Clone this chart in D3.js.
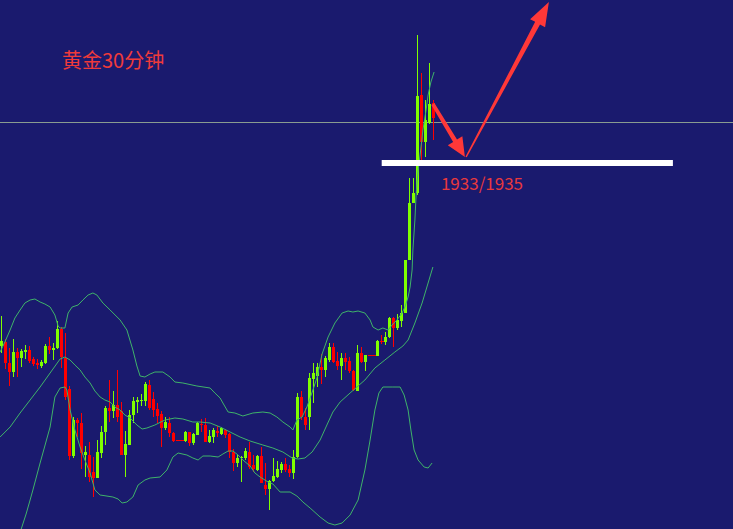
<!DOCTYPE html>
<html><head><meta charset="utf-8">
<script src="https://cdn.jsdelivr.net/npm/d3@7"></script>
<style>html,body{margin:0;padding:0;background:#1a1a6e;overflow:hidden}</style>
</head><body><svg id="c" width="733" height="529"></svg>
<script>
// ---- data (XAUUSD 30-minute candles) ----
const open = [1915.4,1915.8,1913.7,1912.8,1914.8,1914.2,1914.8,1915.0,1914.1,1913.7,1913.4,1913.7,1915.4,1915.0,1915.2,1917.1,1914.2,1911.1,1904.4,1908.0,1907.7,1904.5,1904.5,1902.8,1902.2,1904.7,1906.8,1909.2,1908.9,1909.5,1908.9,1904.5,1905.5,1908.5,1909.8,1909.9,1909.9,1911.5,1910.1,1909.1,1908.6,1907.2,1907.7,1906.7,1906.0,1906.0,1905.9,1906.8,1905.7,1906.5,1907.6,1907.5,1905.8,1906.3,1906.9,1906.6,1907.0,1906.6,1904.8,1903.7,1904.2,1904.2,1904.8,1903.5,1903.0,1904.4,1901.5,1901.1,1901.9,1902.3,1903.0,1903.6,1903.1,1902.7,1904.3,1910.3,1908.3,1908.3,1912.1,1912.4,1913.3,1913.0,1914.0,1915.3,1913.9,1913.4,1914.2,1913.9,1912.9,1910.9,1914.7,1913.8,1914.5,1914.5,1914.4,1915.9,1915.8,1916.3,1918.2,1917.2,1917.9,1918.7,1924.0,1929.7,1930.7,1940.5,1935.8,1937.7,1939.7];
const high = [1918.4,1916.1,1915.2,1916.1,1915.2,1915.1,1915.5,1915.4,1914.3,1914.1,1914.0,1915.6,1916.3,1915.7,1917.9,1917.3,1916.7,1911.4,1908.3,1908.2,1908.7,1905.4,1905.8,1904.3,1906.0,1907.4,1909.4,1912.0,1910.9,1913.0,1909.8,1906.9,1909.0,1910.3,1910.3,1910.6,1911.8,1912.0,1910.8,1909.7,1908.9,1908.3,1908.3,1906.8,1906.0,1906.0,1906.9,1906.8,1906.7,1907.8,1908.1,1908.2,1907.0,1907.2,1907.4,1907.3,1907.1,1906.7,1905.1,1904.5,1904.4,1905.2,1905.8,1904.5,1904.5,1905.3,1903.7,1902.0,1904.2,1903.9,1903.8,1904.2,1903.5,1905.0,1910.7,1910.9,1909.2,1912.7,1913.7,1913.7,1914.6,1914.4,1915.7,1915.7,1914.8,1914.7,1914.7,1914.3,1913.0,1915.5,1915.3,1914.5,1914.5,1914.5,1916.0,1916.5,1916.8,1918.3,1918.3,1918.6,1919.5,1924.0,1932.2,1932.2,1946.5,1942.7,1940.0,1943.7,1940.0];
const low = [1914.7,1913.1,1911.4,1912.3,1912.3,1913.3,1914.1,1913.7,1913.4,1913.1,1913.2,1913.6,1914.6,1914.0,1915.1,1913.2,1910.0,1904.0,1904.2,1906.3,1903.1,1902.3,1901.8,1900.3,1902.2,1904.2,1905.5,1907.8,1908.2,1907.8,1904.5,1902.3,1905.5,1907.7,1908.7,1909.4,1909.4,1909.0,1908.3,1907.7,1905.3,1907.0,1906.3,1905.8,1906.0,1906.0,1905.8,1905.4,1905.5,1906.5,1906.8,1905.8,1905.7,1905.7,1906.3,1906.5,1906.2,1904.2,1902.9,1903.3,1901.8,1904.0,1903.1,1902.8,1902.9,1901.7,1900.5,1899.0,1901.8,1902.2,1902.7,1902.8,1902.3,1902.1,1904.2,1908.0,1907.0,1907.0,1909.7,1911.3,1911.6,1912.3,1913.8,1913.7,1913.0,1912.0,1913.0,1912.7,1910.9,1910.9,1913.7,1912.9,1914.5,1914.5,1914.4,1915.6,1915.5,1916.2,1915.3,1917.0,1917.3,1918.7,1924.0,1929.7,1930.5,1934.0,1934.3,1937.6,1936.0];
const close = [1915.9,1913.7,1912.8,1914.8,1914.2,1914.9,1915.0,1913.9,1913.6,1913.5,1913.8,1915.4,1915.0,1915.2,1917.1,1914.3,1910.3,1904.4,1908.0,1907.7,1904.7,1904.8,1902.3,1902.2,1904.8,1906.8,1909.2,1908.9,1909.5,1908.3,1904.5,1905.6,1908.5,1909.9,1910.0,1910.0,1911.6,1909.2,1909.0,1908.4,1907.2,1907.8,1906.7,1905.9,1906.0,1906.0,1906.8,1905.7,1906.6,1907.7,1907.5,1905.8,1906.4,1907.0,1906.7,1907.2,1906.5,1904.8,1903.7,1904.2,1904.3,1904.9,1903.3,1903.1,1904.4,1901.7,1901.1,1901.9,1902.4,1903.1,1903.6,1903.0,1902.7,1904.3,1910.3,1908.3,1907.5,1912.2,1912.7,1913.3,1913.0,1914.2,1915.3,1913.8,1913.4,1914.2,1913.8,1912.9,1911.0,1914.7,1913.8,1914.5,1914.5,1914.5,1915.9,1915.9,1916.3,1918.2,1917.2,1918.0,1918.7,1924.0,1929.7,1930.7,1940.4,1935.8,1938.0,1939.6,1938.2];

// Bollinger bands: [bar index, price]
const upperBand = [[-0.3,1914.8],[0.9,1915.8],[2.2,1917.0],[3.4,1918.2],[4.7,1919.0],[5.9,1919.7],[7.2,1920.0],[8.4,1920.1],[9.7,1919.8],[10.9,1919.6],[12.2,1919.3],[13.4,1918.5],[14.2,1917.4],[14.7,1917.2],[15.9,1917.2],[16.7,1918.7],[17.7,1919.3],[19.2,1919.5],[20.4,1920.0],[21.7,1920.5],[22.9,1920.7],[23.9,1920.5],[25.4,1919.7],[27.2,1919.0],[29.7,1918.0],[31.4,1917.0],[32.9,1915.0],[33.9,1913.4],[34.7,1912.4],[35.9,1912.3],[37.2,1912.6],[38.4,1912.8],[40.4,1912.8],[42.2,1912.3],[43.4,1911.8],[45.4,1911.7],[48.9,1911.4],[52.2,1911.2],[53.4,1910.7],[54.7,1910.2],[55.4,1909.7],[56.7,1908.8],[58.4,1908.7],[60.4,1908.4],[62.9,1908.7],[65.4,1908.8],[67.2,1908.7],[68.9,1908.3],[70.4,1907.8],[72.2,1907.3],[72.9,1907.0],[73.9,1908.0],[75.2,1908.3],[76.4,1909.3],[77.2,1910.2],[77.9,1911.0],[78.9,1912.2],[80.2,1914.6],[81.7,1916.3],[83.4,1917.7],[85.2,1918.7],[86.7,1918.9],[87.9,1918.8],[89.2,1918.9],[90.9,1918.7],[92.2,1918.0],[92.9,1917.3],[94.2,1917.0],[95.4,1917.2],[96.7,1917.0],[97.7,1917.5],[98.9,1918.0],[100.2,1918.7],[100.9,1919.3],[101.7,1920.3],[102.2,1921.3],[102.7,1923.0],[102.9,1925.0],[103.4,1928.0],[103.7,1930.5],[104.2,1933.0],[104.7,1934.5],[105.4,1937.0],[106.2,1939.0],[106.7,1940.5],[107.4,1941.8],[108.2,1942.8]];
const middleBand = [[-0.3,1906.3],[2.2,1907.3],[4.7,1908.7],[7.2,1910.0],[9.7,1911.3],[12.2,1912.7],[14.7,1914.1],[15.9,1914.3],[17.2,1914.0],[18.4,1913.5],[19.7,1913.0],[20.9,1912.3],[22.2,1911.7],[23.4,1910.9],[24.7,1910.3],[25.9,1910.0],[27.2,1909.8],[28.4,1909.3],[29.7,1909.0],[30.9,1908.5],[32.2,1908.2],[33.9,1907.5],[35.2,1907.1],[36.4,1907.2],[38.4,1907.5],[40.9,1908.0],[43.4,1908.2],[45.4,1908.1],[47.9,1907.8],[49.7,1907.8],[52.2,1907.7],[54.7,1907.3],[57.2,1906.8],[59.7,1906.3],[62.2,1905.9],[65.4,1905.5],[67.9,1905.2],[70.4,1904.8],[72.7,1904.2],[74.2,1904.1],[75.9,1904.2],[77.7,1904.8],[79.7,1906.0],[81.4,1907.5],[82.9,1908.8],[84.7,1909.8],[87.2,1910.7],[88.9,1911.3],[90.9,1912.0],[93.4,1913.2],[95.9,1914.0],[98.4,1914.8],[100.4,1915.4],[101.7,1916.0],[103.4,1917.7],[105.2,1919.7],[106.7,1921.7],[107.9,1923.3]];
const lowerBand = [[4.9,1897.0],[6.2,1898.6],[7.2,1900.0],[7.9,1901.0],[9.7,1903.7],[12.2,1907.3],[13.4,1910.3],[14.7,1911.2],[15.9,1911.3],[16.4,1911.0],[17.2,1909.0],[18.4,1907.0],[19.7,1905.3],[20.9,1904.0],[22.2,1902.7],[23.4,1901.0],[24.7,1900.5],[27.9,1900.3],[29.2,1900.1],[30.2,1899.7],[31.4,1899.8],[32.9,1900.3],[34.2,1901.5],[35.9,1902.0],[37.2,1902.2],[39.7,1902.3],[41.4,1903.0],[42.9,1904.3],[44.2,1904.7],[46.4,1904.5],[47.9,1904.2],[49.2,1904.0],[50.4,1904.4],[52.2,1904.4],[54.2,1904.3],[55.4,1904.6],[56.7,1904.9],[57.9,1904.9],[59.2,1904.5],[60.4,1904.0],[62.2,1903.4],[63.4,1902.7],[64.7,1902.3],[66.7,1901.8],[67.9,1901.6],[69.7,1900.8],[72.2,1900.8],[73.9,1900.4],[75.4,1899.8],[77.2,1899.2],[79.7,1898.3],[81.7,1897.7],[83.4,1897.5],[85.2,1897.7],[87.2,1898.5],[89.2,1900.0],[90.9,1903.0],[92.2,1906.0],[93.4,1909.0],[94.4,1910.7],[95.4,1911.3],[97.7,1911.3],[99.7,1911.3],[100.7,1910.5],[101.7,1909.0],[102.4,1907.0],[103.2,1905.0],[104.2,1904.0],[105.7,1903.3],[106.7,1903.2],[107.7,1903.7]];

const title = "黄金30分钟";
const supportLabel = "1933/1935";
const supportLevel = 1933.7;   // white line
const supportSpan = [95.1, 167.9];
const refLevel = 1937.8;       // thin grey horizontal line
// annotation arrows in [bar index, price]
const arrowDown = [[107.9,1939.6],[115.9,1934.3]];
const arrowUp = [[116.2,1934.3],[136.9,1949.8]];

// ---- drawing ----
const W = 733, H = 529;
const svg = d3.select('#c');
const x = d3.scaleLinear().domain([0, 108]).range([1.3, 433.3]);
const y = d3.scaleLinear().domain([1950, 1897.1]).range([0, 529]);

svg.append('rect').attr('width', W).attr('height', H).attr('fill', '#1a1a6e');

svg.append('line')
  .attr('x1', 0).attr('x2', W)
  .attr('y1', Math.round(y(refLevel)) + 0.5).attr('y2', Math.round(y(refLevel)) + 0.5)
  .attr('stroke', '#8a9c90').attr('stroke-width', 1);

const bars = open.map((o, i) => ({i, o, h: high[i], l: low[i], c: close[i]}));
const GREEN = '#7fff00', RED = '#ff0000';
const g = svg.append('g');
bars.forEach(d => {
  const cx = Math.round(x(d.i));
  const col = d.c > d.o ? GREEN : RED;
  g.append('line')
    .attr('x1', cx + 0.5).attr('x2', cx + 0.5)
    .attr('y1', y(d.h)).attr('y2', y(d.l))
    .attr('stroke', col).attr('stroke-width', 1);
  const top = Math.min(y(d.o), y(d.c)), bot = Math.max(y(d.o), y(d.c));
  g.append('rect')
    .attr('x', cx - 1).attr('width', d.c === d.o ? 4 : 3)
    .attr('y', top).attr('height', Math.max(1, bot - top))
    .attr('fill', col);
});

const line = d3.line().x(d => x(d[0])).y(d => y(d[1]));
[upperBand, middleBand, lowerBand].forEach(b => {
  svg.append('path').attr('d', line(b))
    .attr('fill', 'none').attr('stroke', '#3fb36a').attr('stroke-width', 1);
});

svg.append('rect')
  .attr('x', x(supportSpan[0])).attr('width', x(supportSpan[1]) - x(supportSpan[0]))
  .attr('y', y(supportLevel) - 3).attr('height', 6)
  .attr('fill', '#ffffff');

function arrowPath(p0, p1, wTail, wHead, headLen, headW) {
  const x0 = x(p0[0]), y0 = y(p0[1]), x1 = x(p1[0]), y1 = y(p1[1]);
  const dx = x1 - x0, dy = y1 - y0, L = Math.hypot(dx, dy);
  const ux = dx / L, uy = dy / L, nx = -uy, ny = ux;
  const bx = x1 - ux * headLen, by = y1 - uy * headLen;
  const pts = [
    [x0 + nx * wTail / 2, y0 + ny * wTail / 2],
    [bx + nx * wHead / 2, by + ny * wHead / 2],
    [bx + nx * headW / 2, by + ny * headW / 2],
    [x1, y1],
    [bx - nx * headW / 2, by - ny * headW / 2],
    [bx - nx * wHead / 2, by - ny * wHead / 2],
    [x0 - nx * wTail / 2, y0 - ny * wTail / 2]
  ];
  return 'M' + pts.map(p => p.join(',')).join('L') + 'Z';
}
svg.append('path').attr('d', arrowPath(arrowDown[0], arrowDown[1], 3.5, 4.5, 19, 17)).attr('fill', '#ff3838');
svg.append('path').attr('d', arrowPath(arrowUp[0], arrowUp[1], 1.5, 5.5, 24, 17)).attr('fill', '#ff3838');

svg.append('text').attr('x', 62).attr('y', 68)
  .attr('font-family', '"Noto Sans CJK SC", "Noto Sans", sans-serif')
  .attr('font-size', 20).attr('fill', '#f03a3a').text(title);

svg.append('text').attr('x', x(109.9)).attr('y', y(1931.0))
  .attr('font-family', '"Noto Sans CJK SC", "Noto Sans", sans-serif')
  .attr('font-size', 17).attr('fill', '#e8383c').text(supportLabel);
</script></body></html>
